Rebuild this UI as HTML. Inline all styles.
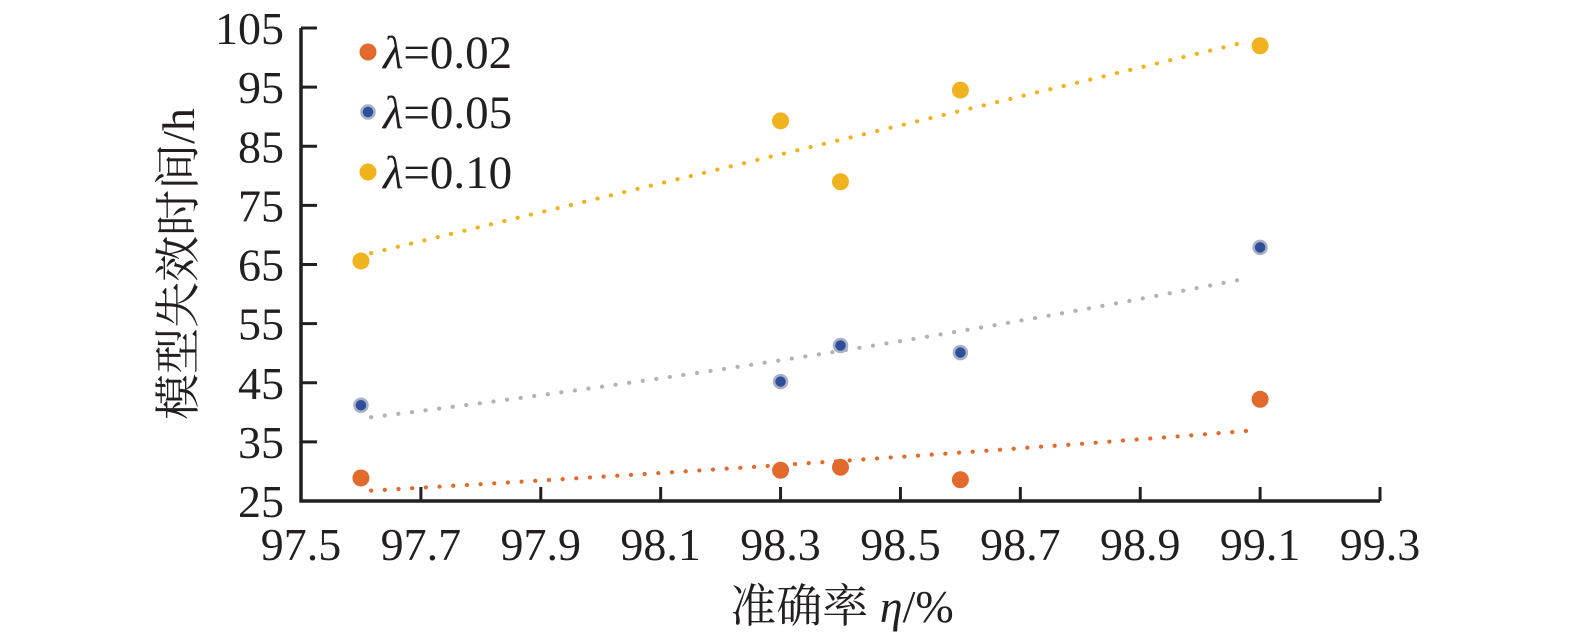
<!DOCTYPE html>
<html><head><meta charset="utf-8"><style>
html,body{margin:0;padding:0;background:#fff;}
svg{display:block;}
text{font-family:"Liberation Serif","DejaVu Serif",serif;fill:#231f20;}
.cjk{font-family:"Liberation Serif","DejaVu Serif","Noto Serif CJK SC","Noto Sans CJK SC",serif;}
</style></head><body>
<svg id="chart" width="1575" height="641" viewBox="0 0 1575 641" xmlns="http://www.w3.org/2000/svg"></svg>
<script>
const xVals = [97.6, 98.3, 98.4, 98.6, 99.1];
const series002 = [28.9, 30.2, 30.7, 28.6, 42.2];
const series005 = [41.2, 45.2, 51.3, 50.1, 67.9];
const series010 = [65.6, 89.3, 79.0, 94.5, 102.0];
const xTicks = ["97.5","97.7","97.9","98.1","98.3","98.5","98.7","98.9","99.1","99.3"];
const yTicks = ["25","35","45","55","65","75","85","95","105"];
const seriesNames = ["0.02","0.05","0.10"];

const NS="http://www.w3.org/2000/svg";
const svg=document.getElementById('chart');
const X0=301,X1=1380,Y0=501,Y1=28;
const FF='"Liberation Serif","DejaVu Serif",serif';
const sx=v=>X0+(v-97.5)/(99.3-97.5)*(X1-X0);
const sy=v=>Y0-(v-25)/(105-25)*(Y0-Y1);
function el(t,a,p){const e=document.createElementNS(NS,t);for(const k in a)e.setAttribute(k,a[k]);(p||svg).appendChild(e);return e;}

function fitLinear(xs,ys){const n=xs.length;const mx=xs.reduce((a,b)=>a+b)/n,my=ys.reduce((a,b)=>a+b)/n;let sxy=0,sxx=0;for(let i=0;i<n;i++){sxy+=(xs[i]-mx)*(ys[i]-my);sxx+=(xs[i]-mx)**2;}const b=sxy/sxx;return x=>my+b*(x-mx);}
function fitExp(xs,ys){const f=fitLinear(xs,ys.map(Math.log));return x=>Math.exp(f(x));}
function trend(fn,color,name){
  let d="";const a=97.617,b=99.083;
  for(let i=0;i<=60;i++){const x=a+(b-a)*i/60;d+=(i?"L":"M")+sx(x).toFixed(1)+","+sy(fn(x)).toFixed(1);}
  const p=el('path',{d:d,fill:'none',stroke:color,'stroke-width':4.2,'stroke-linecap':'round','stroke-dasharray':'0.1 13.6'});
  
  
}
trend(fitExp(xVals,series002),'#e26a2c','trendline-0-02');
trend(fitExp(xVals,series005),'#b3b3b3','trendline-0-05');
trend(fitLinear(xVals,series010),'#f0b21e','trendline-0-10');

const ax=el('path',{d:`M${X0},${Y1}L${X0},${Y0}L${X1},${Y0}`,fill:'none',stroke:'#231f20','stroke-width':3.5});


xTicks.forEach((t,i)=>{const x=sx(+t);
  const l=el('line',{x1:x,x2:x,y1:Y0,y2:Y0-14,stroke:'#231f20','stroke-width':3});
  
  
  const tx=el('text',{x:x,y:560,'font-size':46,'text-anchor':'middle','font-family':FF});tx.textContent=t;
  
  
});
yTicks.forEach((t,i)=>{const y=sy(+t);
  const l=el('line',{x1:X0,x2:X0+16,y1:y,y2:y,stroke:'#231f20','stroke-width':3});
  
  
  const tx=el('text',{x:284,y:y+16,'font-size':46,'text-anchor':'end','font-family':FF});tx.textContent=t;
  
  
});

function pts(vals,fill,stroke,r,name){vals.forEach((v,i)=>{
  const c=el('circle',{cx:sx(xVals[i]),cy:sy(v),r:r,fill:fill,stroke:stroke,'stroke-width':stroke==='none'?0:2.5});
  
  
});}
pts(series002,'#e26a2c','none',8.5,'point-0-02');
pts(series005,'#2f4f9a','#a9b1c6',6.5,'point-0-05');
pts(series010,'#f0b21e','none',8.5,'point-0-10');

const lc=[['#e26a2c','none',8.5],['#2f4f9a','#a9b1c6',6.5],['#f0b21e','none',8.5]];
seriesNames.forEach((n,i)=>{const y=52+i*60;
  const c=el('circle',{cx:368,cy:y,r:lc[i][2],fill:lc[i][0],stroke:lc[i][1],'stroke-width':lc[i][1]==='none'?0:2.5});
  
  
  const t=el('text',{x:383,y:y+16,'font-size':47,'font-family':FF});
  t.innerHTML='<tspan font-style="italic">λ</tspan>='+n;
  
  
});

const yt=el('text',{x:0,y:0,'font-size':46,'text-anchor':'middle',class:'cjk',transform:'translate(194,264) rotate(-90)'});
yt.textContent='模型失效时间/h';


const xt=el('text',{x:842,y:622,'font-size':46,'text-anchor':'middle',class:'cjk'});
xt.innerHTML='准确率 <tspan font-style="italic">η</tspan>/%';


</script>
</body></html>
